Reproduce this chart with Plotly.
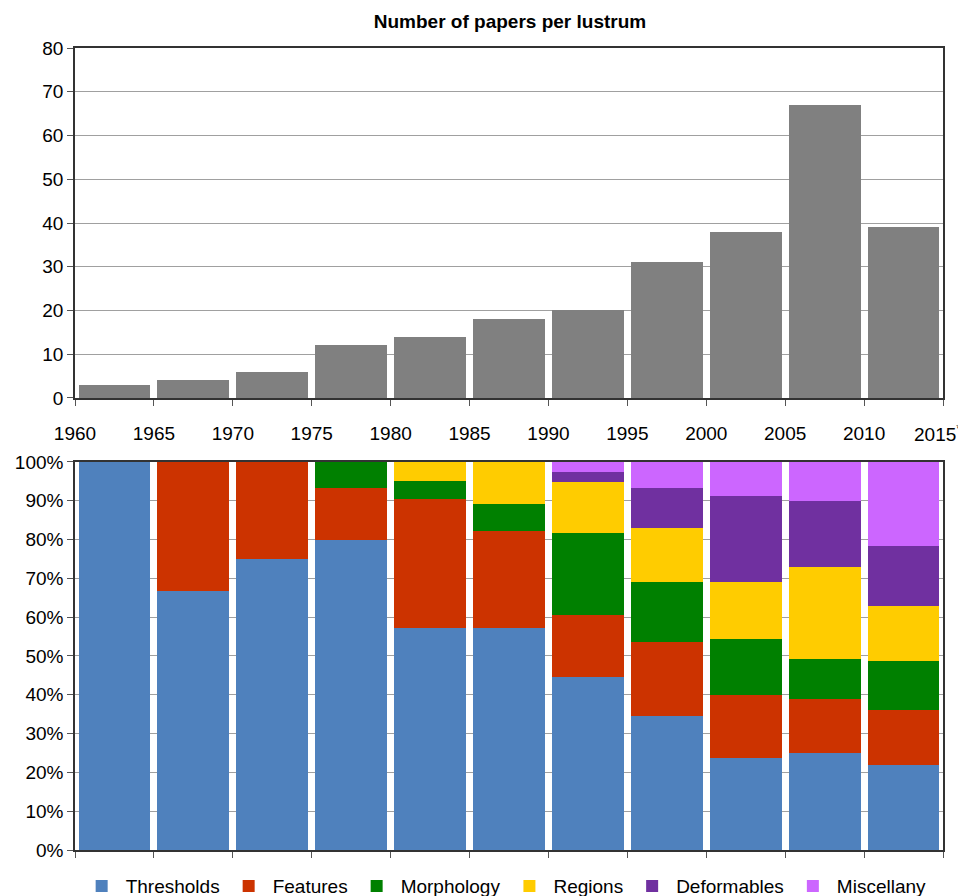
import plotly.graph_objects as go

# ---- data ----
lustra = [1960, 1965, 1970, 1975, 1980, 1985, 1990, 1995, 2000, 2005, 2010]
papers = [3, 4, 6, 12, 14, 18, 20, 31, 38, 67, 39]
tick_years = [1960, 1965, 1970, 1975, 1980, 1985, 1990, 1995, 2000, 2005, 2010, 2015]
tick_labels = ["1960", "1965", "1970", "1975", "1980", "1985", "1990", "1995",
               "2000", "2005", "2010", ""]
last_label = "2015<sup>*</sup>"

series_names = ["Thresholds", "Features", "Morphology", "Regions", "Deformables", "Miscellany"]
thresholds = [100, 66.7, 75, 80, 57.1, 57.1, 44.7, 34.6, 23.6, 25.1, 21.9]
features = [0, 33.3, 25, 13.3, 33.3, 25.0, 15.8, 19.0, 16.3, 13.9, 14.1]
morphology = [0, 0, 0, 6.7, 4.8, 7.1, 21.1, 15.5, 14.6, 10.3, 12.8]
regions = [0, 0, 0, 0, 4.8, 10.8, 13.2, 13.9, 14.7, 23.6, 14.1]
deformables = [0, 0, 0, 0, 0, 0, 2.6, 10.3, 22.0, 17.0, 15.5]
miscellany = [0, 0, 0, 0, 0, 0, 2.6, 6.7, 8.8, 10.1, 21.6]
series_values = [thresholds, features, morphology, regions, deformables, miscellany]
series_colors = ["#4F81BD", "#CC3300", "#008000", "#FFCC00", "#7030A0", "#CC66FF"]

# ---- figure ----
centers = [y + 2.5 for y in lustra]
bar_w = 4.55
FONT = "Liberation Sans, Arial, sans-serif"

fig = go.Figure()
fig.add_trace(go.Bar(x=centers, y=papers, width=bar_w, marker_color="#808080",
                     marker_line_width=0, showlegend=False, xaxis="x", yaxis="y"))
for name, vals, col in zip(series_names, series_values, series_colors):
    fig.add_trace(go.Bar(x=centers, y=vals, width=bar_w, name=name, marker_color=col,
                         marker_line_width=0, xaxis="x2", yaxis="y2"))

axis_common = dict(showline=True, linecolor="#333333", linewidth=1.5, mirror=True,
                   ticks="outside", tickcolor="#555555", ticklen=6, automargin=False,
                   tickfont=dict(size=19, color="black", family=FONT))

fig.update_layout(
    width=958, height=888,
    margin=dict(l=67, r=23, t=40, b=46, autoexpand=False),
    paper_bgcolor="white", plot_bgcolor="white",
    barmode="stack",
    font=dict(family=FONT, size=19, color="black"),
    title=dict(text="<b>Number of papers per lustrum</b>", x=0.524, xanchor="center",
               y=0.9854, yanchor="middle", font=dict(size=19, family=FONT)),
    xaxis=dict(domain=[0, 1], anchor="y", range=[1960, 2015],
               tickmode="array", tickvals=tick_years, ticktext=tick_labels,
               showgrid=False, ticklabelstandoff=11, ticklabeloverflow="allow",
               **axis_common),
    yaxis=dict(domain=[0.5636, 1.0], anchor="x", range=[0, 80], dtick=10,
               showgrid=True, gridcolor="#A0A0A0", gridwidth=1, zeroline=False,
               **axis_common),
    xaxis2=dict(domain=[0, 1], anchor="y2", range=[1960, 2015],
                tickmode="array", tickvals=tick_years, showticklabels=False,
                showgrid=False, **axis_common),
    yaxis2=dict(domain=[0, 0.4838], anchor="x2", range=[0, 100], dtick=10,
                ticksuffix="%", showgrid=True, gridcolor="#A0A0A0", gridwidth=1,
                zeroline=False, **axis_common),
    legend=dict(orientation="h", x=0.495, xanchor="center", y=-0.045, yanchor="middle",
                font=dict(size=19, family=FONT), traceorder="normal",
                itemwidth=38, tracegroupgap=0),
)

fig.add_annotation(text=last_label, xref="x", yref="paper", x=tick_years[-1], y=0.52,
                   xanchor="center", yanchor="middle", xshift=-6, showarrow=False,
                   font=dict(size=19, family=FONT, color="black"))

fig.write_html("out.html")
